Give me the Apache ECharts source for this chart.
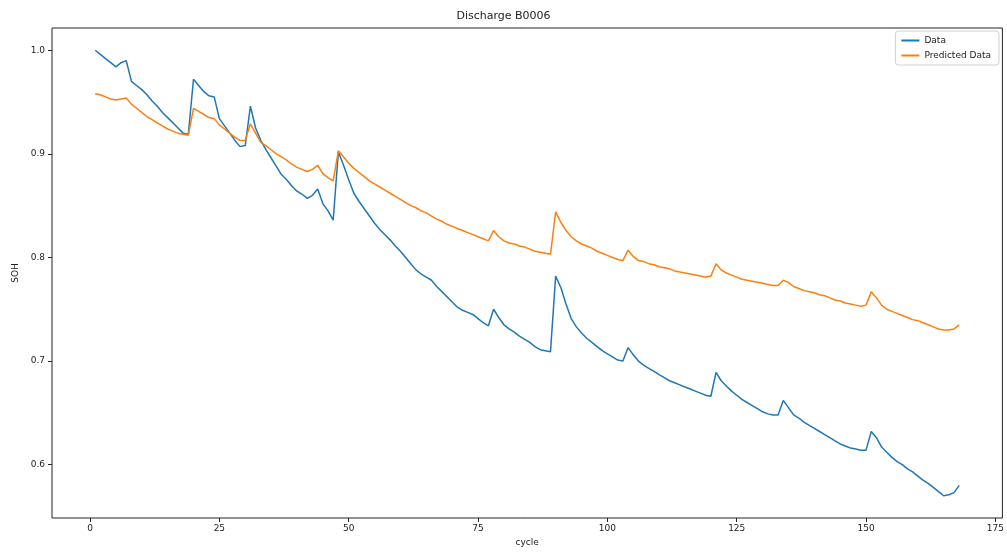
<!DOCTYPE html>
<html>
<head>
<meta charset="utf-8">
<script src="https://cdn.jsdelivr.net/npm/echarts@6/dist/echarts.min.js"></script>
<style>html,body{margin:0;padding:0;background:#fff}#c{width:1007px;height:552px}</style>
</head>
<body>
<div id="c"></div>
<script>
var titleText = 'Discharge B0006';
var seriesNames = ['Data', 'Predicted Data'];
var xTicks = [0, 25, 50, 75, 100, 125, 150, 175];
var yTicks = [0.6, 0.7, 0.8, 0.9, 1.0];
var dataSOH = [
1.000,0.996,0.992,0.988,0.984,0.988,0.990,0.970,0.966,0.962,
0.957,0.951,0.946,0.940,0.935,0.930,0.925,0.920,0.919,0.972,
0.966,0.960,0.956,0.955,0.934,0.927,0.920,0.913,0.907,0.908,
0.946,0.925,0.913,0.904,0.896,0.888,0.880,0.875,0.869,0.864,
0.861,0.857,0.860,0.866,0.852,0.845,0.836,0.902,0.889,0.875,
0.862,0.854,0.847,0.840,0.833,0.827,0.822,0.817,0.811,0.806,
0.800,0.794,0.788,0.784,0.781,0.778,0.772,0.767,0.762,0.757,
0.752,0.749,0.747,0.745,0.741,0.737,0.734,0.750,0.742,0.735,
0.731,0.728,0.724,0.721,0.718,0.714,0.711,0.710,0.709,0.782,
0.771,0.755,0.741,0.733,0.727,0.722,0.718,0.714,0.710,0.707,
0.704,0.701,0.700,0.713,0.706,0.700,0.696,0.693,0.690,0.687,
0.684,0.681,0.679,0.677,0.675,0.673,0.671,0.669,0.667,0.666,
0.689,0.681,0.676,0.671,0.667,0.663,0.660,0.657,0.654,0.651,
0.649,0.648,0.648,0.662,0.655,0.648,0.645,0.641,0.638,0.635,
0.632,0.629,0.626,0.623,0.620,0.618,0.616,0.615,0.614,0.614,
0.632,0.626,0.617,0.612,0.607,0.603,0.600,0.596,0.593,0.589,
0.585,0.582,0.578,0.574,0.570,0.571,0.573,0.580
];
var predictedSOH = [
0.958,0.957,0.955,0.953,0.952,0.953,0.954,0.948,0.944,0.940,
0.936,0.933,0.930,0.927,0.924,0.922,0.920,0.919,0.918,0.944,
0.941,0.938,0.935,0.934,0.928,0.924,0.920,0.916,0.913,0.913,
0.929,0.920,0.911,0.908,0.904,0.900,0.897,0.894,0.890,0.887,
0.885,0.883,0.885,0.889,0.881,0.877,0.874,0.903,0.897,0.891,
0.886,0.882,0.878,0.874,0.871,0.868,0.865,0.862,0.859,0.856,
0.853,0.850,0.848,0.845,0.843,0.840,0.837,0.835,0.832,0.830,
0.828,0.826,0.824,0.822,0.820,0.818,0.816,0.826,0.820,0.816,
0.814,0.813,0.811,0.810,0.808,0.806,0.805,0.804,0.803,0.844,
0.834,0.826,0.820,0.816,0.813,0.811,0.809,0.806,0.804,0.802,
0.800,0.798,0.797,0.807,0.801,0.797,0.796,0.794,0.793,0.791,
0.790,0.789,0.787,0.786,0.785,0.784,0.783,0.782,0.781,0.782,
0.794,0.788,0.785,0.783,0.781,0.779,0.778,0.777,0.776,0.775,
0.774,0.773,0.773,0.778,0.776,0.772,0.770,0.768,0.767,0.766,
0.764,0.763,0.761,0.759,0.758,0.756,0.755,0.754,0.753,0.754,
0.767,0.761,0.754,0.750,0.748,0.746,0.744,0.742,0.740,0.739,
0.737,0.735,0.733,0.731,0.730,0.730,0.731,0.735
];

function pairs(arr) { return arr.map(function (v, i) { return [i + 1, v]; }); }

var chart = echarts.init(document.getElementById('c'), null, {renderer: 'canvas'});
var font = 'DejaVu Sans';
chart.setOption({
  animation: false,
  backgroundColor: '#fff',
  title: {
    text: titleText, left: 'center', top: 6,
    textStyle: {fontFamily: font, fontSize: 11, fontWeight: 'normal', color: '#222'}
  },
  legend: {
    orient: 'vertical', right: 8, top: 31,
    data: seriesNames,
    icon: 'rect', itemWidth: 18, itemHeight: 2, itemGap: 6,
    padding: [5, 8, 5, 6],
    borderColor: '#d0d0d0', borderWidth: 1, borderRadius: 3,
    textStyle: {fontFamily: font, fontSize: 9, color: '#222'}
  },
  grid: {left: 52, right: 2, top: 28, bottom: 28, show: true, borderColor: '#222', borderWidth: 1},
  xAxis: {
    type: 'value', min: -7.35, max: 176.35,
    name: 'cycle', nameLocation: 'middle', nameGap: 20,
    nameTextStyle: {fontFamily: font, fontSize: 9, color: '#222'},
    axisLine: {show: false, onZero: false},
    splitLine: {show: false},
    axisTick: {show: true, inside: false, length: 4, customValues: xTicks, lineStyle: {color: '#222'}},
    axisLabel: {customValues: xTicks, fontFamily: font, fontSize: 9, color: '#222', margin: 6}
  },
  yAxis: {
    type: 'value', min: 0.5485, max: 1.0215,
    name: 'SOH', nameLocation: 'middle', nameGap: 30, nameRotate: 90,
    nameTextStyle: {fontFamily: font, fontSize: 9, color: '#222'},
    axisLine: {show: false, onZero: false},
    splitLine: {show: false},
    axisTick: {show: true, inside: false, length: 4, customValues: yTicks, lineStyle: {color: '#222'}},
    axisLabel: {customValues: yTicks, fontFamily: font, fontSize: 9, color: '#222', margin: 7,
      formatter: function (v) { return v.toFixed(1); }}
  },
  series: [
    {name: seriesNames[0], type: 'line', data: pairs(dataSOH), showSymbol: false,
     lineStyle: {color: '#1f77b4', width: 1.5}, itemStyle: {color: '#1f77b4'}},
    {name: seriesNames[1], type: 'line', data: pairs(predictedSOH), showSymbol: false,
     lineStyle: {color: '#ff7f0e', width: 1.5}, itemStyle: {color: '#ff7f0e'}}
  ]
});
</script>
</body>
</html>
